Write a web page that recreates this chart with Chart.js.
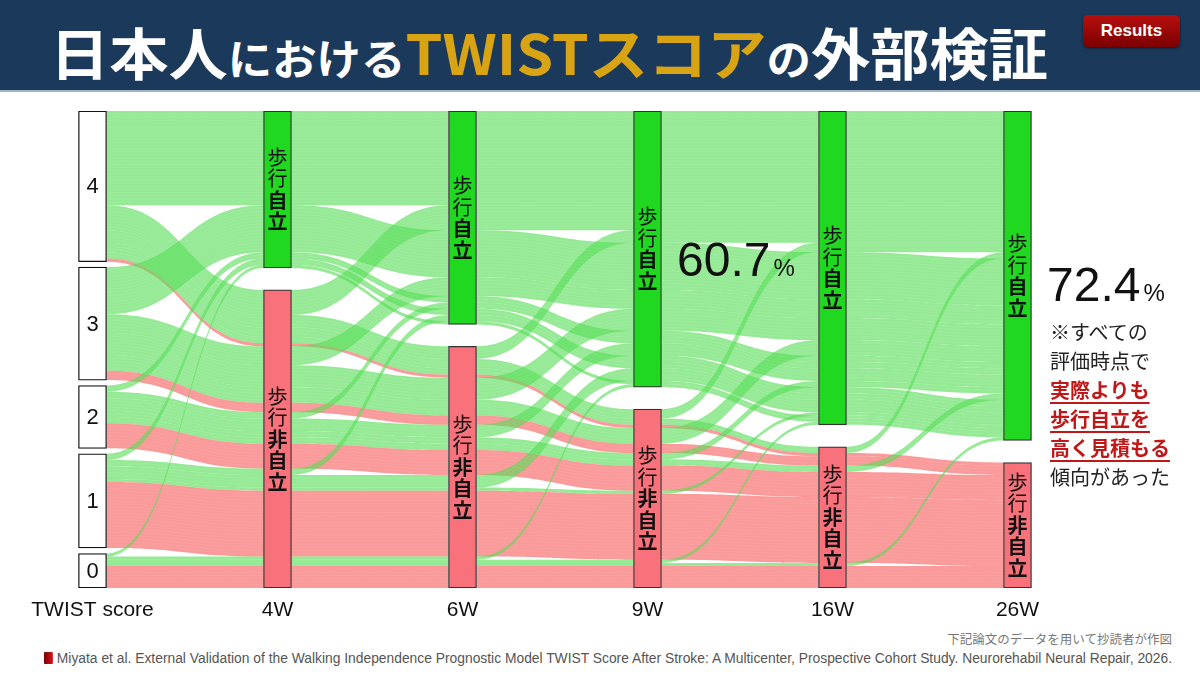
<!DOCTYPE html>
<html>
<head>
<meta charset="utf-8">
<script src="https://cdn.jsdelivr.net/npm/chart.js@4.4.1/dist/chart.umd.min.js"></script>
<style>
html,body{margin:0;padding:0;width:1200px;height:675px;overflow:hidden;background:#fff;font-family:"Noto Sans CJK JP","Noto Sans",sans-serif;}
#header{position:absolute;left:0;top:0;width:1200px;height:90px;background:#1b3a5b;border-bottom:2px solid #9db3c6;}
#title{position:absolute;left:50px;top:21px;white-space:nowrap;font-weight:700;color:#fff;transform-origin:0 0;line-height:60px;}
#title .big{font-size:56px;}
#title .mid{font-size:42px;}
#title .gold{color:#d9a414;}
#badge{position:absolute;left:1083px;top:15px;width:97px;height:32px;border-radius:5px;background:linear-gradient(#b80f0f,#7c0000);box-shadow:0 1px 3px rgba(0,0,0,.6);color:#fff;font:700 17px "Liberation Sans",Arial,sans-serif;text-align:center;line-height:32px;}
#chartBox{position:absolute;left:0;top:100px;width:1200px;height:528px;}
.pct{position:absolute;white-space:nowrap;color:#111;font-family:"Liberation Sans",Arial,sans-serif;}
.pct .num{font-size:48px;}
.pct .unit{font-size:24px;margin-left:3px;}
#note{position:absolute;left:1050px;top:317px;font-size:20px;line-height:29px;color:#222;white-space:nowrap;}
#note .em{color:#c01818;font-weight:700;text-decoration:underline;text-decoration-thickness:2px;text-underline-offset:4px;}
#credit{position:absolute;right:28px;top:629px;font-size:12.5px;color:#777;white-space:nowrap;}
#cite{position:absolute;left:44px;top:650px;white-space:nowrap;transform-origin:0 0;color:#555;font:14px "Liberation Sans Narrow","Liberation Sans",Arial,sans-serif;}
#cite .book{display:inline-block;width:9px;height:12px;background:linear-gradient(90deg,#7a0000,#d01a1a);margin-right:4px;vertical-align:-1px;border-radius:1px;}
</style>
</head>
<body>
<div id="header">
  <div id="title"><span class="big">日本人</span><span class="mid">における</span><span class="big gold">TWISTスコア</span><span class="mid">の</span><span class="big">外部検証</span></div>
  <div id="badge">Results</div>
</div>
<div id="chartBox"><canvas id="c"></canvas></div>
<div class="pct" style="left:677px;top:232px;"><span class="num">60.7</span><span class="unit">%</span></div>
<div class="pct" style="left:1047px;top:257px;"><span class="num">72.4</span><span class="unit">%</span></div>
<div id="note">※すべての<br>評価時点で<br><span class="em">実際よりも</span><br><span class="em">歩行自立を</span><br><span class="em">高く見積もる</span><br>傾向があった</div>
<div id="credit">下記論文のデータを用いて抄読者が作図</div>
<div id="cite"><span class="book"></span>Miyata et al. External Validation of the Walking Independence Prognostic Model TWIST Score After Stroke: A Multicenter, Prospective Cohort Study. Neurorehabil Neural Repair, 2026.</div>
<script>
// ---- data ----
const categories = ['TWIST score', '4W', '6W', '9W', '16W', '26W'];
const scoreLevels = ['4', '3', '2', '1', '0'];
const statusLabels = ['自立', '非自立'];
// patients per TWIST score, split by the first time point judged 歩行自立
// order: 4W, 6W, 9W, 16W, 26W, never
const firstIndependent = ['4W', '6W', '9W', '16W', '26W', 'なし'];
const score4 = [30, 8, 4, 3, 2, 1];
const score3 = [15, 6, 7, 5, 0, 3];
const score2 = [2, 2, 4, 2, 2, 8];
const score1 = [2, 2, 4, 1, 0, 21];
const score0 = [1, 0, 1, 1, 1, 7];
const scoreGroups = [score4, score3, score2, score1, score0];

// ---- build alluvia (global order: score, then earlier independence first) ----
const groups = [];
scoreGroups.forEach((grp, s) => {
  grp.forEach((n, t) => { if (n > 0) groups.push({ s, t, n }); });
});
const N = groups.reduce((a, g) => a + g.n, 0);
const nAxes = categories.length;
function stratum(g, a) {
  if (a === 0) return g.s;
  return (g.t <= a - 1) ? 0 : 1;
}
const EXTENT = 152;
const nodes = [];
const pos = groups.map(() => []);
for (let a = 0; a < nAxes; a++) {
  const K = a === 0 ? scoreLevels.length : statusLabels.length;
  const counts = new Array(K).fill(0);
  groups.forEach(g => counts[stratum(g, a)] += g.n);
  const gap = (EXTENT - N) / (K - 1);
  const starts = [];
  let y = 0;
  for (let k = 0; k < K; k++) { starts.push(y); y += counts[k] + gap; }
  nodes.push(counts.map((c, k) => ({ start: starts[k], count: c })));
  const cursor = starts.slice();
  groups.forEach((g, i) => { const k = stratum(g, a); pos[i][a] = cursor[k]; cursor[k] += g.n; });
}

const GREEN_NODE = '#1fd81f', RED_NODE = '#f8717b';
const datasets = [];
for (let r = 0; r < scoreLevels.length; r++) {
  const data = [], bg = [], bc = [];
  for (let a = 0; a < nAxes; a++) {
    const nd = nodes[a][r];
    data.push(nd ? [nd.start, nd.start + nd.count] : null);
    bg.push(a === 0 ? '#ffffff' : (r === 0 ? GREEN_NODE : RED_NODE));
    bc.push(a === 0 ? '#111' : '#333');
  }
  datasets.push({ data, backgroundColor: bg, borderColor: bc, borderWidth: 1.3, borderSkipped: false, grouped: false, barThickness: 28 });
}

const flowPlugin = {
  id: 'flows',
  beforeDatasetsDraw(chart) {
    const ctx = chart.ctx, xs = chart.scales.x, ys = chart.scales.y;
    const half = 14;
    ctx.save();
    groups.forEach((g, i) => {
      const green = g.t <= 4;
      for (let a = 0; a < nAxes - 1; a++) {
        const x0 = xs.getPixelForValue(a) + half, x1 = xs.getPixelForValue(a + 1) - half;
        const xm = (x0 + x1) / 2;
        const a0 = ys.getPixelForValue(pos[i][a]), a1 = ys.getPixelForValue(pos[i][a] + g.n);
        const b0 = ys.getPixelForValue(pos[i][a + 1]), b1 = ys.getPixelForValue(pos[i][a + 1] + g.n);
        ctx.fillStyle = green ? 'rgba(85,221,85,0.62)' : 'rgba(247,86,86,0.6)';
        ctx.beginPath();
        ctx.moveTo(x0, a0);
        ctx.bezierCurveTo(xm, a0, xm, b0, x1, b0);
        ctx.lineTo(x1, b1);
        ctx.bezierCurveTo(xm, b1, xm, a1, x0, a1);
        ctx.closePath();
        ctx.fill();
        // faint individual-patient lines
        ctx.strokeStyle = 'rgba(255,255,255,0.10)';
        ctx.lineWidth = 0.6;
        for (let j = 1; j < g.n; j++) {
          const pa = ys.getPixelForValue(pos[i][a] + j), pb = ys.getPixelForValue(pos[i][a + 1] + j);
          ctx.beginPath();
          ctx.moveTo(x0, pa);
          ctx.bezierCurveTo(xm, pa, xm, pb, x1, pb);
          ctx.stroke();
        }
      }
    });
    ctx.restore();
  },
  afterDatasetsDraw(chart) {
    const ctx = chart.ctx, xs = chart.scales.x, ys = chart.scales.y;
    ctx.save();
    ctx.textAlign = 'center';
    ctx.textBaseline = 'middle';
    ctx.fillStyle = '#111';
    for (let a = 0; a < nAxes; a++) {
      const cx = xs.getPixelForValue(a);
      nodes[a].forEach((nd, k) => {
        const cy = ys.getPixelForValue(nd.start + nd.count / 2);
        if (a === 0) {
          ctx.font = '22px "Liberation Sans", Arial, sans-serif';
          ctx.fillText(scoreLevels[k], cx, cy + 1);
        } else {
          const chars = [['歩', 400], ['行', 400]];
          for (const ch of statusLabels[k]) chars.push([ch, 700]);
          const pitch = 21.5;
          const y0 = cy - (chars.length - 1) * pitch / 2;
          chars.forEach(([ch, w], j) => {
            ctx.font = w + ' 20px "Noto Sans CJK JP", sans-serif';
            ctx.fillText(ch, cx, y0 + j * pitch);
          });
        }
      });
    }
    ctx.restore();
  }
};

new Chart(document.getElementById('c'), {
  type: 'bar',
  data: { labels: categories, datasets },
  options: {
    responsive: true,
    maintainAspectRatio: false,
    animation: false,
    layout: { padding: { top: 11, left: 0, right: 90, bottom: 0 } },
    plugins: { legend: { display: false }, tooltip: { enabled: false } },
    scales: {
      x: {
        type: 'category', offset: true,
        grid: { display: false, drawTicks: false }, border: { display: false },
        ticks: { color: '#111', padding: 10, font: { size: 21, family: '"Liberation Sans", Arial, sans-serif' } },
        afterFit(scale) { scale.height = 40; }
      },
      y: { display: false, min: 0, max: EXTENT, reverse: true }
    }
  },
  plugins: [flowPlugin]
});

function fitWidth(el, target) {
  const w = el.getBoundingClientRect().width;
  if (w > 0) el.style.transform = 'scaleX(' + (target / w) + ')';
}
fitWidth(document.getElementById('title'), 998);
fitWidth(document.getElementById('cite'), 1128);
</script>
</body>
</html>
